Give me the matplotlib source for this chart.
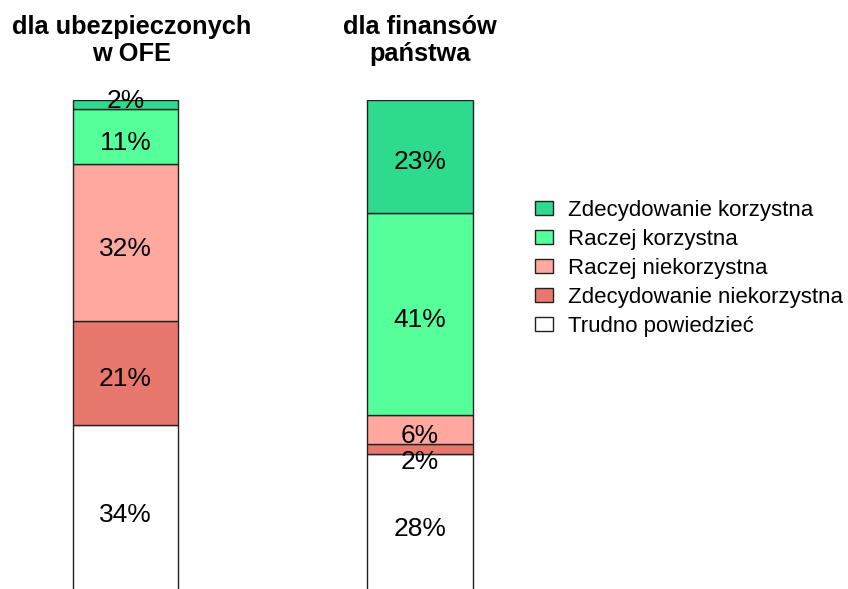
import matplotlib
matplotlib.use("Agg")
import matplotlib.pyplot as plt
from matplotlib.transforms import blended_transform_factory
import numpy as np

plt.rcParams['font.family'] = ['Liberation Sans', 'DejaVu Sans']

groups = ["dla ubezpieczonych\nw OFE", "dla finansów\npaństwa"]
# stacked from bottom to top
series = ["Trudno powiedzieć", "Zdecydowanie niekorzystna", "Raczej niekorzystna",
          "Raczej korzystna", "Zdecydowanie korzystna"]
values = [
    [34, 28],
    [21, 2],
    [32, 6],
    [11, 41],
    [2, 23],
]
colors = ["#ffffff", "#e8786e", "#ffa8a0", "#55ff99", "#2edb8e"]

W, H = 848, 589
fig = plt.figure(figsize=(W / 100, H / 100), dpi=100)
# axes placed so the bars land where they sit in the reference
px_unit = 294.5
ax = fig.add_axes([(125.5 - 0.4 * px_unit) / W, -3 / H, 1.8 * px_unit / W, (H + 3 - 99.5) / H])
ax.set_xlim(-0.4, 1.4)
ax.set_ylim(0, 100)
ax.axis('off')

# tiny segments had their labels pushed apart in the original
nudge = {(4, 0): 7, (1, 1): -5}

x = np.arange(len(groups))
bottom = np.zeros(len(groups))
handles = []
for si, (name, vals, col) in enumerate(zip(series, values, colors)):
    vals = np.array(vals, dtype=float)
    bars = ax.bar(x, vals, width=0.357, bottom=bottom, color=col,
                  edgecolor='#222222', linewidth=1, label=name)
    handles.append(bars)
    for xi, b, v in zip(x, bottom, vals):
        dy = -4.5 + nudge.get((si, xi), 0)
        ax.annotate(f"{int(v)}%", (xi, b + v / 2), xytext=(0, dy),
                    textcoords='offset points', ha='center', va='center',
                    fontsize=19, color='black')
    bottom += vals

tr = blended_transform_factory(ax.transData, fig.transFigure)
for xi, g, dx in zip(x, groups, [0.022, 0.0]):
    ax.text(xi + dx, 1 - 15 / H, g, transform=tr, ha='center', va='top',
            fontsize=18.3, fontweight='bold', linespacing=1.16)

leg = fig.legend(handles[::-1], series[::-1], loc='center left',
                 bbox_to_anchor=(515 / W, 1 - 268.5 / H), frameon=False,
                 fontsize=16, handlelength=0.8, handleheight=0.55,
                 handletextpad=0.7, labelspacing=0.36)

fig.savefig("out.png", dpi=100)
